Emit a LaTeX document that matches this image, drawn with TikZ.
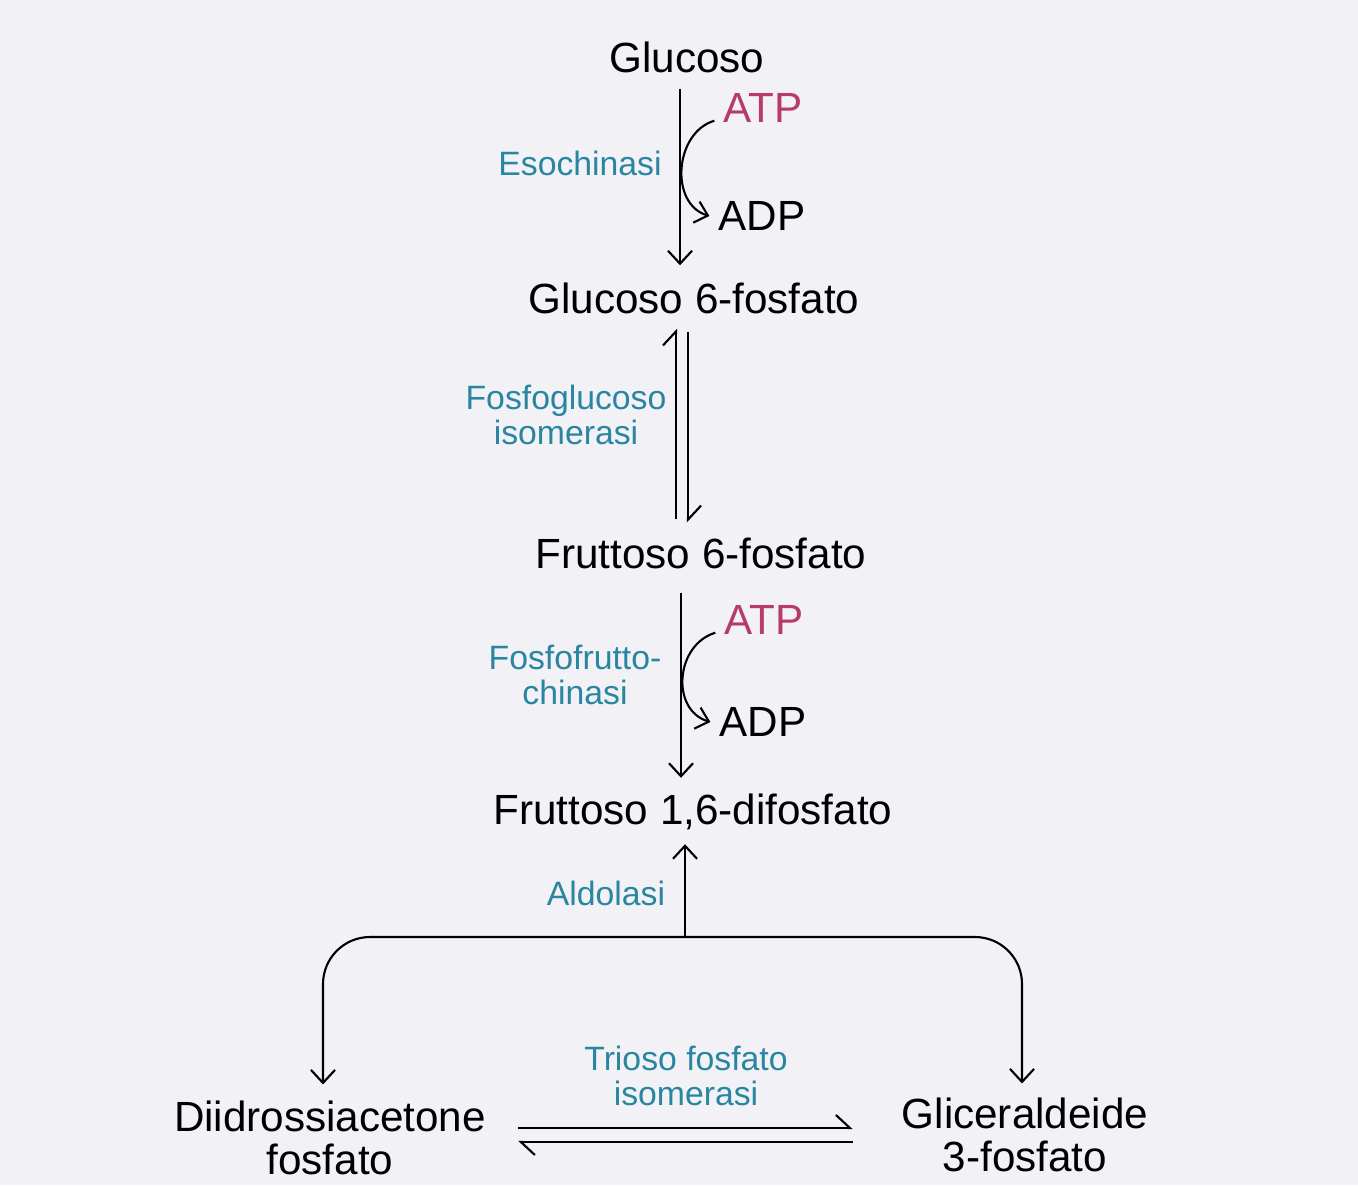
\documentclass[tikz,border=0pt]{standalone}
\usepackage{fontspec}
\setmainfont{Liberation Sans}
\usepackage{tikz}
\usetikzlibrary{arrows.meta,positioning,calc}
\definecolor{cBg}{HTML}{F1F1F6}
\definecolor{cEnz}{HTML}{2A86A0}
\definecolor{cAtp}{HTML}{B83A68}
\tikzset{
  mol/.style={inner sep=1pt,align=center,font=\fontsize{12}{12.4}\selectfont},
  enz/.style={inner sep=1pt,align=center,text=cEnz,font=\fontsize{9.6}{9.8}\selectfont},
  cof/.style={inner sep=1pt,font=\fontsize{12}{12.4}\selectfont},
  rxn/.style={-{Straight Barb[length=1.3mm,width=2.4mm]},line width=0.6pt},
  harp/.style={-{Straight Barb[left,length=1.4mm,width=2.6mm]},line width=0.6pt},
  side/.style={-{Straight Barb[length=1.2mm,width=2.2mm]},line width=0.6pt},
}
\begin{document}
\begin{tikzpicture}[x=0.01cm,y=-0.01cm]
  \fill[cBg] (0,0) rectangle (1358,1185);
  \useasboundingbox (0,0) rectangle (1358,1185);
  % metabolites
  \node[mol] (glc) at (687,57) {Glucoso};
  \node[mol] (g6p) at (694,298) {Glucoso 6-fosfato};
  \node[mol] (f6p) at (701,553) {Fruttoso 6-fosfato};
  \node[mol] (f16) at (693,812) {Fruttoso 1,6-difosfato};
  \node[mol] (dhap) at (330,1138) {Diidrossiacetone\\fosfato};
  \node[mol] (gap) at (1025,1135) {Gliceraldeide\\3-fosfato};
  % cofactors
  \node[cof,text=cAtp] (atp1) at (763,108) {ATP};
  \node[cof] (adp1) at (762,216) {ADP};
  \node[cof,text=cAtp] (atp2) at (764,620) {ATP};
  \node[cof] (adp2) at (763,722) {ADP};
  % enzymes
  \node[enz] (hk) at (580,163) {Esochinasi};
  \node[enz] (pgi) at (566,415) {Fosfoglucoso\\isomerasi};
  \node[enz] (pfk) at (575,675) {Fosfofrutto-\\chinasi};
  \node[enz] (ald) at (606,893) {Aldolasi};
  \node[enz] (tpi) at (686,1076) {Trioso fosfato\\isomerasi};
  \coordinate (ax) at (680,0);
  \coordinate (split) at (685,937);
  % steps
  \draw[rxn,shorten <=1.2mm,shorten >=1.3mm] (glc.south -| ax) -- (g6p.north -| ax);
  \draw[side] ([xshift=-0.5mm,yshift=0.6mm]atp1.south west) .. controls +(-40,12) and +(-40,-12) .. ([xshift=-0.5mm]adp1.west);
  \draw[harp,shorten <=1.4mm,shorten >=1.1mm] (f6p.north -| 676,0) -- (g6p.south -| 676,0);
  \draw[harp,shorten <=1.4mm,shorten >=1.1mm] (g6p.south -| 688,0) -- (f6p.north -| 688,0);
  \draw[rxn,shorten <=2mm,shorten >=1.2mm] (f6p.south -| 681,0) -- (f16.north -| 681,0);
  \draw[side] ([xshift=-0.5mm,yshift=0.6mm]atp2.south west) .. controls +(-40,12) and +(-40,-12) .. ([xshift=-0.5mm]adp2.west);
  \draw[rxn,shorten >=1mm] (split) -- (f16.south -| split);
  \draw[rxn,rounded corners=4.7mm] (split) -| ($(dhap.north)+(-7,-12)$);
  \draw[rxn,rounded corners=4.7mm] (split) -| ($(gap.north)+(-3,-10)$);
  \draw[harp] ($(dhap.east)+(28,-10)$) -- ($(gap.west)+(-45,-7)$);
  \draw[harp] ($(gap.west)+(-45,7)$) -- ($(dhap.east)+(28,4)$);
\end{tikzpicture}
\end{document}
